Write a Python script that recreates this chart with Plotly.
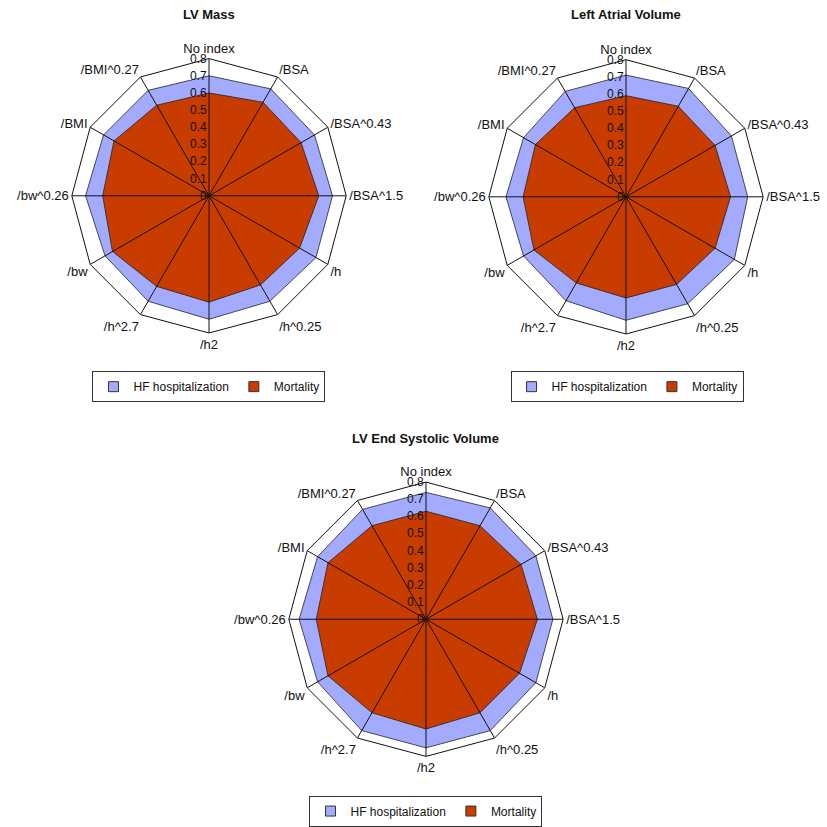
import plotly.graph_objects as go

categories = ["No index", "/BSA", "/BSA^0.43", "/BSA^1.5", "/h", "/h^0.25",
              "/h2", "/h^2.7", "/bw", "/bw^0.26", "/BMI", "/BMI^0.27"]

panel_titles = ["LV Mass", "Left Atrial Volume", "LV End Systolic Volume"]
series_names = ["HF hospitalization", "Mortality"]

# Discrimination values per indexing method (HF hospitalization / mortality)
lv_mass_hf = [0.70, 0.72, 0.71, 0.72, 0.72, 0.71, 0.72, 0.71, 0.70, 0.72, 0.71, 0.71]
lv_mass_mort = [0.60, 0.63, 0.62, 0.64, 0.61, 0.60, 0.62, 0.61, 0.65, 0.62, 0.64, 0.61]

lav_hf = [0.71, 0.73, 0.71, 0.71, 0.73, 0.72, 0.72, 0.70, 0.69, 0.70, 0.69, 0.71]
lav_mort = [0.59, 0.61, 0.60, 0.61, 0.60, 0.59, 0.59, 0.58, 0.62, 0.60, 0.61, 0.60]

lvesv_hf = [0.74, 0.75, 0.74, 0.74, 0.74, 0.75, 0.75, 0.75, 0.73, 0.74, 0.73, 0.74]
lvesv_mort = [0.63, 0.63, 0.64, 0.65, 0.63, 0.63, 0.64, 0.63, 0.66, 0.64, 0.66, 0.63]

radial_ticks = [0, 0.1, 0.2, 0.3, 0.4, 0.5, 0.6, 0.7, 0.8]
radial_max = 0.8

HF_COLOR = "#a2abfd"
MORT_COLOR = "#c93c00"
FONT = "Liberation Sans, Arial, sans-serif"

panels = [
    (lv_mass_hf, lv_mass_mort),
    (lav_hf, lav_mort),
    (lvesv_hf, lvesv_mort),
]

# (polar domain x, polar domain y, legend x, legend y, title y)
placement = [
    ([0.0859, 0.4196], [0.5949, 0.9287], 0.2527, 0.5296, 0.9820),
    ([0.5901, 0.9238], [0.5937, 0.9274], 0.7582, 0.5296, 0.9820),
    ([0.3482, 0.6820], [0.0798, 0.4135], 0.5151, 0.0133, 0.4670),
]

fig = go.Figure()

for i, (hf, mort) in enumerate(panels):
    polar = "polar" if i == 0 else f"polar{i + 1}"
    legend = "legend" if i == 0 else f"legend{i + 1}"
    theta = categories + [categories[0]]

    for vals, color in ((hf, HF_COLOR), (mort, MORT_COLOR)):
        fig.add_trace(go.Scatterpolar(
            r=vals + [vals[0]], theta=theta, subplot=polar,
            mode="lines", fill="toself", fillcolor=color,
            line=dict(color="#222222", width=0.8),
            showlegend=False, hoverinfo="skip",
        ))
    # spokes drawn on top of the filled areas
    for cat in categories:
        fig.add_trace(go.Scatterpolar(
            r=[0, radial_max], theta=[cat, cat], subplot=polar,
            mode="lines", line=dict(color="#111111", width=1),
            showlegend=False, hoverinfo="skip",
        ))
    # centre marker
    fig.add_trace(go.Scatterpolar(
        r=[0], theta=[categories[0]], subplot=polar, mode="markers",
        marker=dict(color="black", size=5), showlegend=False, hoverinfo="skip",
    ))
    # legend keys as outlined squares
    for name, color in zip(series_names, (HF_COLOR, MORT_COLOR)):
        fig.add_trace(go.Scatterpolar(
            r=[None], theta=[None], subplot=polar, legend=legend,
            name=name, mode="markers",
            marker=dict(symbol="square", size=10, color=color,
                        line=dict(color="#333333", width=1)),
            hoverinfo="skip",
        ))

    dx, dy, lx, ly, ty = placement[i]
    fig.update_layout({
        polar: dict(
            domain=dict(x=dx, y=dy),
            gridshape="linear",
            bgcolor="white",
            angularaxis=dict(
                rotation=90, direction="clockwise",
                categoryorder="array", categoryarray=categories,
                showgrid=False, showline=True, linecolor="#111111", linewidth=1,
                ticks="", tickfont=dict(family=FONT, size=13, color="#111111"),
            ),
            radialaxis=dict(
                range=[0, radial_max], angle=90, side="counterclockwise",
                tickvals=radial_ticks,
                ticktext=[f"{v:g}" for v in radial_ticks],
                showgrid=False, showline=False, ticks="",
                tickangle=90, layer="above traces",
                tickfont=dict(family=FONT, size=12, color="#111111"),
            ),
        ),
        legend: dict(
            x=lx, y=ly, xanchor="center", yanchor="middle",
            orientation="h", bgcolor="white",
            bordercolor="#333333", borderwidth=1,
            font=dict(family=FONT, size=12, color="#111111"),
            itemwidth=30, tracegroupgap=0,
        ),
    })
    fig.add_annotation(
        text=f"<b>{panel_titles[i]}</b>", x=sum(dx) / 2, y=ty,
        xref="paper", yref="paper", showarrow=False,
        xanchor="center", yanchor="middle",
        font=dict(family=FONT, size=13, color="#111111"),
    )

fig.update_layout(
    width=827, height=827,
    margin=dict(l=0, r=0, t=0, b=0),
    paper_bgcolor="white",
    showlegend=True,
)

fig.write_html("out.html")
